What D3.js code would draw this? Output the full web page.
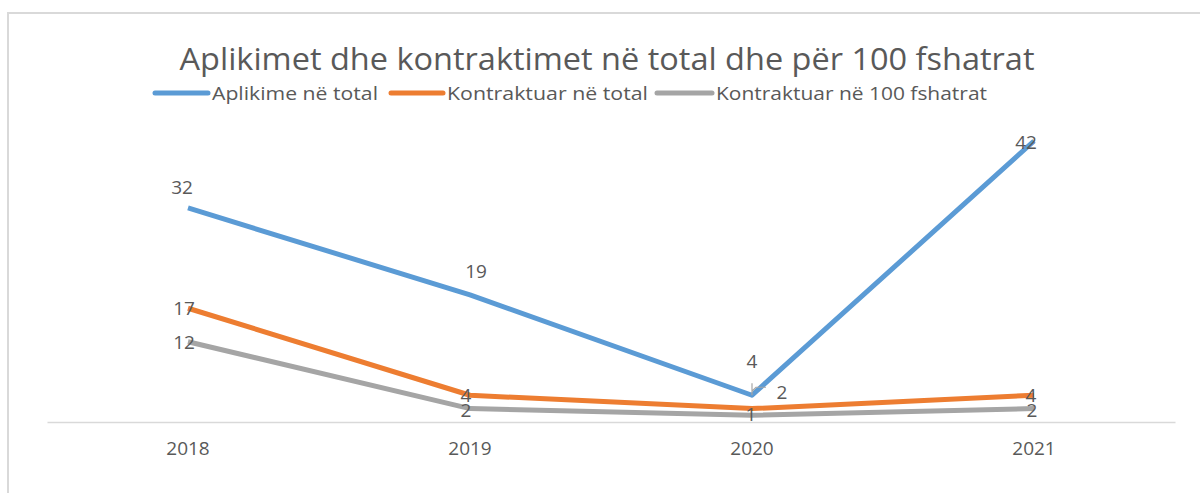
<!DOCTYPE html>
<html>
<head>
<meta charset="utf-8">
<script src="https://cdn.jsdelivr.net/npm/d3@7"></script>
<style>
  body { margin: 0; background: #fff; }
  text { font-family: "Liberation Sans Narrow", "Open Sans", "DejaVu Sans Condensed", sans-serif; fill: #595959; }
</style>
</head>
<body>
<script>
//chart data
var years = ["2018", "2019", "2020", "2021"];
var seriesNames = ["Aplikime në total", "Kontraktuar në total", "Kontraktuar në 100 fshatrat"];
var aplikime = [32, 19, 4, 42];
var kontraktuar = [17, 4, 2, 4];
var kontraktuar100 = [12, 2, 1, 2];
var colors = ["#5b9bd5", "#ed7d31", "#a5a5a5"];

//label offsets per series point (dx, dy) to mimic the excel placement
var labelOffsets = [
    [[-6, -14], [6, -17], [0, -27], [-8, 8]],
    [[-4, 7], [-4, 7], [30, -10], [-3, 7]],
    [[-4, 7], [-4, 8], [-1, 6], [-2, 8]]
];

var width = 1200,
    height = 493;

var svg = d3.select("body")
    .append("svg")
    .attr("width", width)
    .attr("height", height);

//frame
svg.append("rect")
    .attr("x", 8)
    .attr("y", 13)
    .attr("width", width + 20)
    .attr("height", height + 20)
    .attr("fill", "none")
    .attr("stroke", "#d9d9d9")
    .attr("stroke-width", 2);

var x = d3.scaleBand()
    .domain(years)
    .range([47, 1175]);

var y = d3.scaleLinear()
    .domain([0, 42])
    .range([422, 141]);

//axis
var xAxis = svg.append("g")
    .attr("transform", "translate(0,422)")
    .call(d3.axisBottom(x).tickSize(0).tickPadding(20));
xAxis.select(".domain").attr("stroke", "#d9d9d9").attr("stroke-width", 1.5);
xAxis.selectAll("text")
    .style("font-size", "19px")
    .style("font-family", "'Open Sans', sans-serif")
    .attr("fill", "#595959");

//title
svg.append("text")
    .attr("x", 607)
    .attr("y", 70)
    .attr("text-anchor", "middle")
    .attr("textLength", 855)
    .attr("lengthAdjust", "spacingAndGlyphs")
    .style("font-size", "31px")
    .text("Aplikimet dhe kontraktimet në total dhe për 100 fshatrat");

//legend
var legendItems = [
    {x1: 155, x2: 208, tx: 212, tw: 166},
    {x1: 391, x2: 443, tx: 447, tw: 201},
    {x1: 657, x2: 712, tx: 716, tw: 271}
];
var legend = svg.selectAll(".legend")
    .data(legendItems)
    .enter()
    .append("g")
    .attr("class", "legend");
legend.append("line")
    .attr("x1", function(d){ return d.x1; })
    .attr("x2", function(d){ return d.x2; })
    .attr("y1", 93)
    .attr("y2", 93)
    .attr("stroke", function(d, i){ return colors[i]; })
    .attr("stroke-width", 5)
    .attr("stroke-linecap", "round");
legend.append("text")
    .attr("x", function(d){ return d.tx; })
    .attr("y", 100)
    .attr("textLength", function(d){ return d.tw; })
    .attr("lengthAdjust", "spacingAndGlyphs")
    .style("font-size", "19px")
    .text(function(d, i){ return seriesNames[i]; });

var series = [aplikime, kontraktuar, kontraktuar100];

var line = d3.line()
    .x(function(d, i){ return x(years[i]) + x.bandwidth() / 2; })
    .y(function(d){ return y(d); });

//draw back to front: gray, orange, blue
[2, 1, 0].forEach(function(s){
    svg.append("path")
        .datum(series[s])
        .attr("class", "series")
        .attr("fill", "none")
        .attr("stroke", colors[s])
        .attr("stroke-width", 5)
        .attr("stroke-linejoin", "round")
        .attr("d", line);
});

//leader line for the orange 2020 label
var lx = x("2020") + x.bandwidth() / 2;
svg.append("path")
    .attr("d", "M" + lx + "," + y(aplikime[2]) + "l0,-12 M" + lx + "," + (y(aplikime[2]) - 4) + "l4,-4 l10,0")
    .attr("fill", "none")
    .attr("stroke", "#a6a6a6")
    .attr("stroke-width", 1.2);

//data labels
series.forEach(function(vals, s){
    svg.selectAll(".lab" + s)
        .data(vals)
        .enter()
        .append("text")
        .attr("class", "lab" + s)
        .attr("x", function(d, i){ return x(years[i]) + x.bandwidth() / 2 + labelOffsets[s][i][0]; })
        .attr("y", function(d, i){ return y(d) + labelOffsets[s][i][1]; })
        .attr("text-anchor", "middle")
        .style("font-size", "19px")
        .style("font-family", "'Open Sans', sans-serif")
        .attr("fill", "#404040")
        .text(function(d){ return d; });
});
</script>
</body>
</html>
